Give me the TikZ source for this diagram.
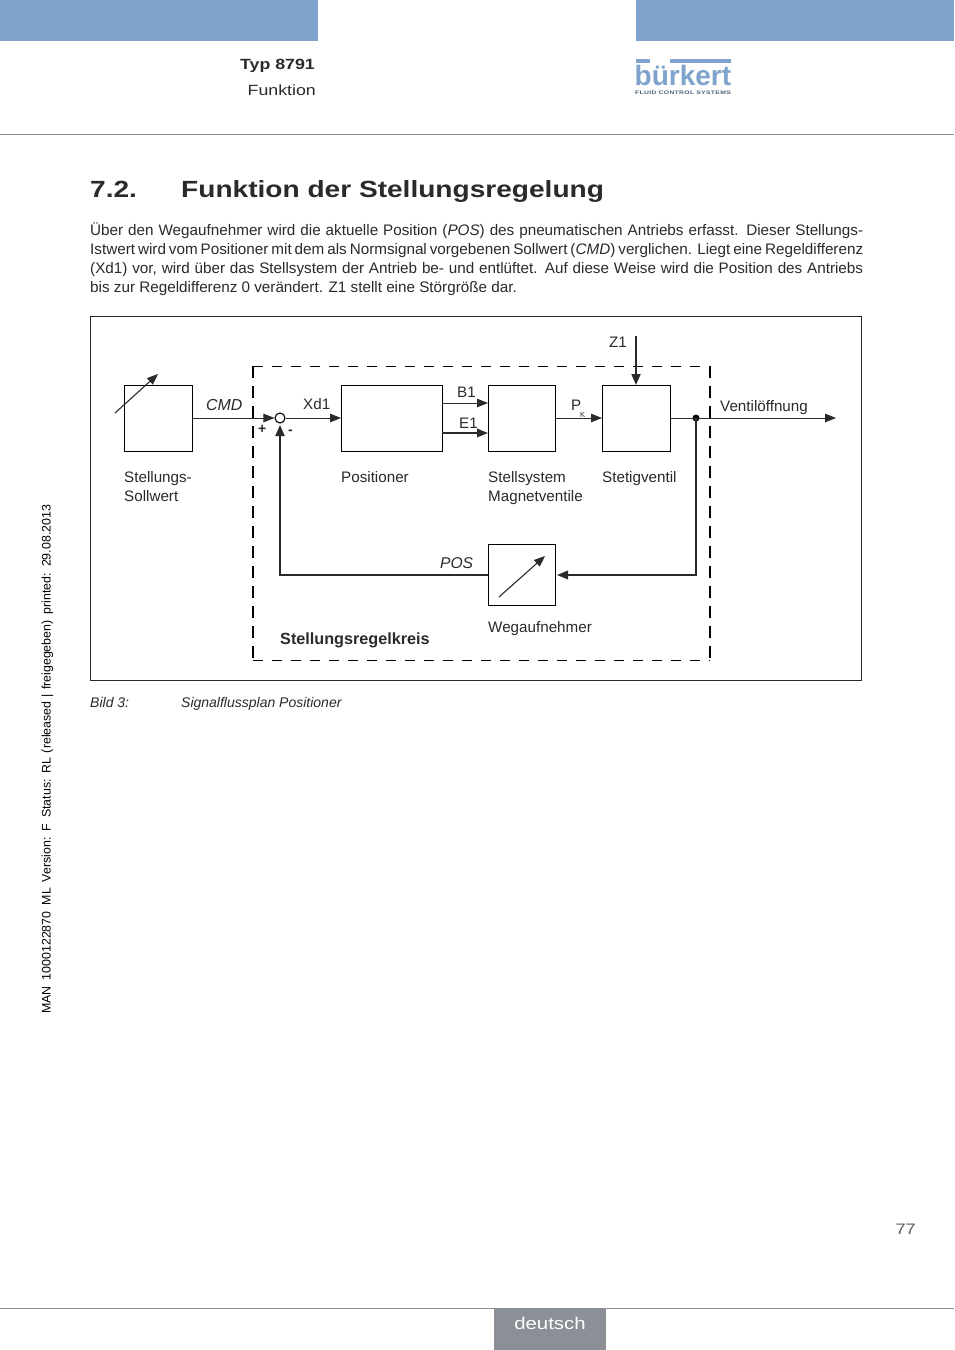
\documentclass[tikz,border=0pt]{standalone}
\usepackage{fontspec}
\usetikzlibrary{arrows.meta}
\setmainfont{Liberation Sans}
\newfontfamily\widefont[FakeStretch=1.2]{Liberation Sans}
\newfontfamily\subfont[FakeStretch=1.35,LetterSpace=6]{Liberation Sans}
\definecolor{hdrblue}{HTML}{7FA3CC}
\definecolor{txt}{HTML}{2A2A2A}
\definecolor{rulegray}{HTML}{8C8C8C}
\definecolor{footgray}{HTML}{8A9095}
\newcommand{\fs}[1]{\fontsize{#1}{#1}\selectfont}
\newcommand{\justline}[1]{\makebox[773pt][s]{#1}}
\tikzset{
  x=1pt,y=-1pt,
  lbl/.style={inner sep=0pt,anchor=base west,text=txt,font=\fs{15.2}},
  bodyline/.style={inner sep=0pt,anchor=base west,text=txt,font=\fs{15.25}},
  blockbox/.style={draw=black,line width=1.4pt,fill=white,inner sep=0pt,anchor=north west},
  sig/.style={draw=txt,line width=0.9pt},
  sigthick/.style={draw=txt,line width=1.8pt},
  tip/.style={-{Triangle[length=11pt,width=8.5pt]}},
}
\begin{document}
\begin{tikzpicture}
\useasboundingbox (0,0) rectangle (954,1350);
\fill[white] (0,0) rectangle (954,1350);
% header
\fill[hdrblue] (0,0) rectangle (318,41);
\fill[hdrblue] (636,0) rectangle (954,41);
\node[inner sep=0pt,anchor=base east,text=txt,font=\widefont\bfseries\fs{14.8}] (typ) at (315,69) {Typ 8791};
\node[inner sep=0pt,anchor=base east,text=txt,font=\widefont\fs{14.8}] (fkt) at (316,95) {Funktion};
% logo
\fill[hdrblue] (636,59) rectangle (650,63);
\fill[hdrblue] (670,59) rectangle (731,63);
\node[inner sep=0pt,anchor=base west,text=hdrblue,font=\bfseries\fs{28}] (logo) at (634.5,85.5) {bürkert};
\node[inner sep=0pt,anchor=base west,text=hdrblue!60!black,font=\subfont\bfseries\fs{5.05}] (logosub) at (635,94) {FLUID CONTROL SYSTEMS};
\draw[rulegray,line width=0.8pt] (0,134.5) -- (954,134.5);
% heading
\node[inner sep=0pt,anchor=base west,text=txt,font=\widefont\bfseries\fs{23.4}] (hnum) at (90,197) {7.2.};
\node[inner sep=0pt,anchor=base west,text=txt,font=\widefont\bfseries\fs{23.4}] (htitle) at (181,197) {Funktion der Stellungsregelung};
% body
\node[bodyline] (l1) at (90,235) {\justline{Über den Wegaufnehmer wird die aktuelle Position (\textit{POS}) des pneumatischen Antriebs erfasst. Dieser Stellungs-}};
\node[bodyline] (l2) at (90,254) {\justline{Istwert wird vom Positioner mit dem als Normsignal vorgebenen Sollwert (\textit{CMD}) verglichen. Liegt eine Regeldifferenz}};
\node[bodyline] (l3) at (90,273) {\justline{(Xd1) vor, wird über das Stellsystem der Antrieb be- und entlüftet. Auf diese Weise wird die Position des Antriebs}};
\node[bodyline] (l4) at (90,292) {bis zur Regeldifferenz 0 verändert. Z1 stellt eine Störgröße dar.};
% frame
\draw[draw=txt,line width=0.9pt] (90.5,316.5) rectangle (861.5,680.5);
% dashed box
\draw[draw=black,line width=1pt,dash pattern=on 10pt off 9pt] (253,366) -- (710,366);
\draw[draw=black,line width=1pt,dash pattern=on 10pt off 9pt] (253,660) -- (710,660);
\draw[draw=black,line width=1.6pt,dash pattern=on 12pt off 8pt] (253,366) -- (253,660);
\draw[draw=black,line width=1.6pt,dash pattern=on 12pt off 8pt] (710,366) -- (710,660);
% blocks
\node[blockbox,minimum width=68pt,minimum height=66pt] (soll) at (124,385) {};
\node[blockbox,minimum width=101pt,minimum height=66pt] (pos) at (341,385) {};
\node[blockbox,minimum width=67pt,minimum height=66pt] (mag) at (488,385) {};
\node[blockbox,minimum width=68pt,minimum height=66pt] (stet) at (602,385) {};
\node[blockbox,minimum width=67pt,minimum height=61pt] (weg) at (488,544) {};
\node[circle,draw=black,line width=1.1pt,fill=white,minimum size=10pt,inner sep=0pt] (sum) at (280,418) {};
\node[circle,fill=black,minimum size=7pt,inner sep=0pt] (junc) at (696,418) {};
% free ends
\coordinate (z1top) at (636,336);
\coordinate (ventil) at (836,418);
\coordinate (fbcorner) at (280,575);
\coordinate (fbtip) at (280,425);
\coordinate (jcorner) at (696,575);
\coordinate (wegin) at (557,575);
\coordinate (sa) at (115,413);
\coordinate (sb) at (158,374);
\coordinate (wa) at (499,597);
\coordinate (wb) at (545,556);
% connectors
\draw[sig,tip] (soll.east |- sum.west) -- (sum.west);
\draw[sig,tip] (sum.east) -- (pos.west |- sum.east);
\draw[sig,tip] (442,403) -- (488,403);
\draw[sigthick,tip] (442,433) -- (488,433);
\draw[sig,tip] (mag.east |- sum.east) -- (stet.west |- sum.east);
\draw[sig] (stet.east |- sum.east) -- (junc.center);
\draw[sig,tip] (junc.center) -- (ventil);
\draw[sigthick,-{Triangle[length=11pt,width=9pt]}] (z1top) -- (636,385);
\draw[sigthick,-{Triangle[length=11pt,width=8.5pt]}] (junc.center) -- (jcorner) -- (wegin);
\draw[sigthick,-{Triangle[length=11pt,width=9pt]}] (weg.west |- wegin) -- (fbcorner) -- (fbtip);
\draw[sig,line width=1.1pt,tip] (sa) -- (sb);
\draw[sig,line width=1.1pt,tip] (wa) -- (wb);
% labels
\node[lbl,font=\itshape\fs{15.9}] (cmd) at (206,410) {CMD};
\node[lbl] (xd) at (303,409) {Xd1};
\node[lbl] (b1) at (457,397) {B1};
\node[lbl] (e1) at (459,428) {E1};
\node[lbl] (pk) at (571,410) {P};
\node[lbl,font=\fs{7.5}] (pks) at (580,417) {K};
\node[lbl] (z1) at (609,347) {Z1};
\node[lbl] (ven) at (720,411) {Ventilöffnung};
\node[lbl,font=\bfseries\fs{14}] (plus) at (258,433) {+};
\node[lbl,font=\bfseries\fs{14}] (minus) at (288,434) {-};
\node[lbl] (t1) at (124,482) {Stellungs-};
\node[lbl] (t2) at (124,501) {Sollwert};
\node[lbl] (t3) at (341,482) {Positioner};
\node[lbl] (t4) at (488,482) {Stellsystem};
\node[lbl] (t5) at (488,501) {Magnetventile};
\node[lbl] (t6) at (602,482) {Stetigventil};
\node[lbl,font=\itshape\fs{15.6}] (pp) at (440,568) {POS};
\node[lbl] (t7) at (488,632) {Wegaufnehmer};
\node[lbl,font=\bfseries\fs{16.2}] (t8) at (280,644) {Stellungsregelkreis};
% caption
\node[lbl,font=\itshape\fs{14}] (c1) at (90,707) {Bild 3:};
\node[lbl,font=\itshape\fs{14}] (c2) at (181,707) {Signalflussplan Positioner};
% margin
\node[inner sep=0pt,anchor=base west,rotate=90,text=black,font=\fs{12.4}] (marg) at (50.5,1014) {\makebox[509pt][s]{MAN\hspace{6pt}1000122870\hspace{6pt}ML\hspace{6pt}Version: F\hspace{6pt}Status: RL (released | freigegeben)\hspace{6pt}printed: 29.08.2013}};
% footer
\node[inner sep=0pt,anchor=base east,text=txt!75,font=\widefont\fs{15.2}] (pnum) at (916,1234) {77};
\draw[rulegray,line width=0.8pt] (0,1308.5) -- (954,1308.5);
\fill[footgray] (494,1308) rectangle (606,1350);
\node[inner sep=0pt,anchor=base,text=white,font=\widefont\fs{17}] (deu) at (550,1329) {deutsch};
\end{tikzpicture}
\end{document}
